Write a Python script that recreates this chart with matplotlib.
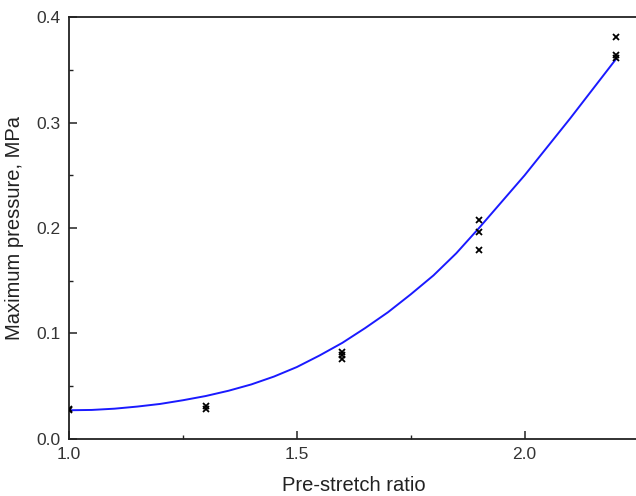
import matplotlib
matplotlib.use("Agg")
import matplotlib.pyplot as plt
from matplotlib.ticker import MultipleLocator

plt.rcParams['font.family'] = ['Liberation Sans', 'DejaVu Sans']

# measured data (pre-stretch ratio, maximum pressure MPa)
meas_x = [1.0, 1.0, 1.3, 1.3, 1.6, 1.6, 1.6, 1.9, 1.9, 1.9, 2.2, 2.2, 2.2]
meas_y = [0.027, 0.028, 0.028, 0.031, 0.076, 0.079, 0.082,
          0.179, 0.196, 0.208, 0.361, 0.364, 0.381]

# fitted curve
fit_x = [1.0, 1.05, 1.1, 1.15, 1.2, 1.25, 1.3, 1.35, 1.4, 1.45, 1.5, 1.55,
         1.6, 1.65, 1.7, 1.75, 1.8, 1.85, 1.9, 1.95, 2.0, 2.05, 2.1, 2.15, 2.2]
fit_y = [0.027, 0.0273, 0.0285, 0.0305, 0.033, 0.0365, 0.0405, 0.0455,
         0.0515, 0.059, 0.068, 0.079, 0.091, 0.105, 0.120, 0.137, 0.155,
         0.176, 0.200, 0.225, 0.250, 0.277, 0.304, 0.332, 0.360]

xticks = [1.0, 1.5, 2.0]
yticks = [0.0, 0.1, 0.2, 0.3, 0.4]

fig = plt.figure(figsize=(6.36, 4.96), dpi=100)
ax = fig.add_axes([69/636, 57.3/496, 569.5/636, 421.4/496])

ax.plot(fit_x, fit_y, color='#1a1aff', lw=1.4, zorder=2)
ax.plot(meas_x, meas_y, linestyle='none', marker='x', color='black',
        markersize=5, markeredgewidth=1.3, zorder=3)

ax.set_xlim(1.0, 2.25)
ax.set_ylim(0.0, 0.4)
ax.set_xticks(xticks)
ax.set_xticklabels([f"{t:.1f}" for t in xticks])
ax.set_yticks(yticks)
ax.set_yticklabels([f"{t:.1f}" for t in yticks])
ax.xaxis.set_minor_locator(MultipleLocator(0.25))
ax.yaxis.set_minor_locator(MultipleLocator(0.05))

ax.tick_params(which='major', direction='in', length=5.5, width=1.1,
               labelsize=12.5, pad=6, colors='#222222', labelcolor='#333333')
ax.tick_params(which='minor', direction='in', length=3, width=1.0, colors='#222222')
for s in ax.spines.values():
    s.set_linewidth(1.3)
    s.set_color('#222222')

ax.set_xlabel('Pre-stretch ratio', fontsize=14.5, color='#222222', labelpad=10)
ax.set_ylabel('Maximum pressure, MPa', fontsize=14.5, color='#222222', labelpad=9)

fig.savefig('out.png', dpi=100)
